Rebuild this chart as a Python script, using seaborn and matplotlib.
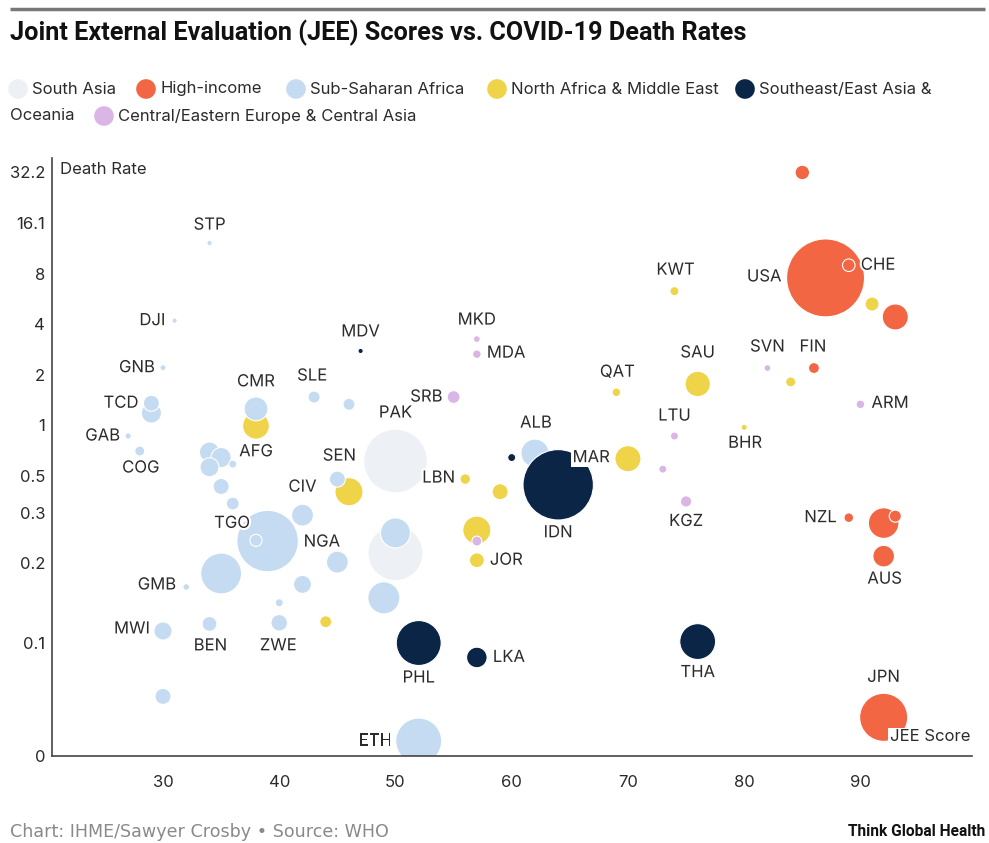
"""
JEE 评分 vs. COVID-19 死亡率 气泡图
"""
import numpy as np
import pandas as pd
import matplotlib
matplotlib.use('Agg')  # 无界面，直接保存
import matplotlib.pyplot as plt
import matplotlib.patheffects as pe
from matplotlib.ticker import NullLocator
import seaborn as sns

# ---- 数据 ----
REGIONS = ['South Asia', 'High-income', 'Sub-Saharan Africa', 'North Africa & Middle East',
           'Southeast/East Asia & Oceania', 'Central/Eastern Europe & Central Asia']
COLORS = ['#edf1f5', '#f26644', '#c5dbf1', '#efd449', '#0b2546', '#dab6e6']

# region keys: SA, HI, SSA, NAME, SEA, CEE
codes = ['STP', 'DJI', 'GNB', 'TCD', '', 'GAB', 'COG', '', '', '', '', '', '',
         'CMR', 'SLE', '', 'SEN', '', 'CIV', 'NGA', 'TGO', '', '', 'GMB', '',
         'MWI', 'BEN', 'ZWE', '', '', '', '', 'ETH', 'ALB', '', 'PAK', '',
         'MDV', 'MKD', 'MDA', 'SRB', 'QAT', 'MAR', 'IDN', 'LBN', '', '', '',
         'JOR', '', 'PHL', 'LKA', 'AFG',
         '', 'USA', 'CHE', '', '', 'FIN', '', 'SVN', 'ARM', 'BHR', 'LTU', 'KWT',
         'SAU', '', 'KGZ', 'NZL', '', '', 'AUS', 'THA', 'JPN']
region = ['SSA', 'SSA', 'SSA', 'SSA', 'SSA', 'SSA', 'SSA', 'SSA', 'SSA', 'SSA', 'SSA', 'SSA', 'SSA',
          'SSA', 'SSA', 'SSA', 'SSA', 'NAME', 'SSA', 'SSA', 'SSA', 'SSA', 'SSA', 'SSA', 'SSA',
          'SSA', 'SSA', 'SSA', 'SSA', 'SSA', 'SSA', 'SSA', 'SSA', 'SSA', 'SEA', 'SA', 'SA',
          'SEA', 'CEE', 'CEE', 'CEE', 'NAME', 'NAME', 'SEA', 'NAME', 'NAME', 'NAME', 'CEE',
          'NAME', 'NAME', 'SEA', 'SEA', 'NAME',
          'HI', 'HI', 'HI', 'NAME', 'HI', 'HI', 'NAME', 'CEE', 'CEE', 'NAME', 'CEE', 'NAME',
          'NAME', 'CEE', 'CEE', 'HI', 'HI', 'HI', 'HI', 'SEA', 'HI']
jee = [34, 31, 30, 29, 29, 27, 28, 34, 35, 34, 36, 35, 36,
       38, 43, 46, 45, 46, 42, 39, 38, 35, 42, 32, 40,
       30, 34, 40, 30, 45, 50, 49, 52, 62, 60, 50, 50,
       47, 57, 57, 55, 69, 70, 64, 56, 59, 57, 57,
       57, 44, 52, 57, 38,
       85, 87, 89, 91, 93, 86, 84, 82, 90, 80, 74, 74,
       76, 73, 75, 89, 92, 93, 92, 76, 92]
death = [12.2, 4.2, 2.2, 1.35, 1.18, 0.86, 0.70, 0.69, 0.64, 0.56, 0.585, 0.43, 0.34,
         1.25, 1.47, 1.33, 0.476, 0.40, 0.29, 0.203, 0.205, 0.13, 0.112, 0.108, 0.087,
         0.059, 0.065, 0.066, 0.024, 0.152, 0.227, 0.093, 0.013, 0.68, 0.64, 0.61, 0.172,
         2.77, 3.26, 2.65, 1.47, 1.57, 0.63, 0.44, 0.476, 0.40, 0.236, 0.203,
         0.156, 0.067, 0.050, 0.041, 0.99,
         32.2, 7.56, 9.0, 5.28, 4.42, 2.19, 1.81, 2.19, 1.33, 0.97, 0.86, 6.3,
         1.76, 0.546, 0.35, 0.28, 0.26, 0.286, 0.165, 0.051, 0.018]
# 人口（百万），决定气泡面积
pop = [1.5, 1.5, 2, 14, 22, 2.2, 5.4, 22, 22, 19.6, 3.5, 14, 9,
       31, 8, 7.8, 14, 43, 26, 206, 8, 91, 17.6, 2.4, 3.5,
       18, 12, 14.9, 14, 26, 49, 56, 115, 43, 3.5, 221, 165,
       1.5, 2.5, 4, 9, 4, 37, 270, 6, 14, 43, 5.4,
       12, 7.8, 110, 23, 39,
       11.5, 331, 8.6, 10.7, 37, 6.5, 5.4, 2.5, 4, 2, 3.5, 4.5,
       35, 3.5, 7, 5, 51, 8, 25.5, 70, 126]

y_ticks = [0.01058, 0.05, 0.15, 0.3, 0.5, 1, 2, 4, 8, 16.1, 32.2]
y_tick_labels = ['0', '0.1', '0.2', '0.3', '0.5', '1', '2', '4', '8', '16.1', '32.2']
x_ticks = [30, 40, 50, 60, 70, 80, 90]

# 绘制顺序（图层）：先画的在下面
draw_order = ['SA', 'NAME', 'SSA', 'HI', 'CEE', 'SEA']

# 标签相对气泡中心的偏移（像素，向下为正）和对齐方式
label_pos = {
    'STP': (0, -18, 'center'), 'DJI': (-9, 0, 'right'), 'GNB': (-8, 0, 'right'),
    'TCD': (-13, 0, 'right'), 'GAB': (-8, 0, 'right'), 'COG': (1, 17, 'center'),
    'CMR': (0, -27, 'center'), 'SLE': (-2, -21, 'center'), 'AFG': (0, 26, 'center'),
    'SEN': (2, -23, 'center'), 'CIV': (0, -28, 'center'), 'TGO': (-24, -17, 'center'),
    'NGA': (36, 1, 'left'), 'GMB': (-10, -2, 'right'), 'MWI': (-13, -2, 'right'),
    'BEN': (1, 22, 'center'), 'ZWE': (-1, 23, 'center'), 'ETH': (-27, 0, 'right'),
    'PHL': (0, 35, 'center'), 'LKA': (16, 0, 'left'), 'JOR': (13, 0, 'left'),
    'LBN': (-10, -1, 'right'), 'PAK': (0, -48, 'center'), 'SRB': (-11, 0, 'right'),
    'MKD': (0, -19, 'center'), 'MDA': (10, -1, 'left'), 'MDV': (0, -19, 'center'),
    'ALB': (1, -30, 'center'), 'MAR': (-18, -1, 'right'), 'IDN': (0, 48, 'center'),
    'QAT': (1, -20, 'center'), 'KWT': (1, -21, 'center'), 'SAU': (0, -31, 'center'),
    'LTU': (0, -20, 'center'), 'BHR': (1, 16, 'center'), 'KGZ': (0, 20, 'center'),
    'SVN': (0, -21, 'center'), 'FIN': (-1, -21, 'center'), 'USA': (-44, -1, 'right'),
    'CHE': (12, 0, 'left'), 'ARM': (11, -1, 'left'), 'NZL': (-12, 0, 'right'),
    'AUS': (1, 23, 'center'), 'THA': (0, 31, 'center'), 'JPN': (0, -40, 'center'),
}

key_to_name = dict(zip(['SA', 'HI', 'SSA', 'NAME', 'SEA', 'CEE'], REGIONS))

df = pd.DataFrame({'code': codes, 'key': region, 'jee': jee, 'death': death, 'pop': pop})
df['region'] = df['key'].map(key_to_name)
df['layer'] = df['key'].map({k: i for i, k in enumerate(draw_order)})
df = df.sort_values(['layer', 'pop'], ascending=[True, False], kind='stable')

# ---- 绘图 ----
sns.set_style('white')
plt.rcParams['font.family'] = ['Inter', 'DejaVu Sans']
TEXT = '#2b2b2b'

W, H = 989, 843
fig = plt.figure(figsize=(W / 100, H / 100), dpi=100)
ax = fig.add_axes([52 / W, 1 - 756 / H, 920 / W, 598 / H])

sns.scatterplot(data=df, x='jee', y='death', hue='region', hue_order=REGIONS,
                palette=COLORS, size='pop', sizes=(0, 3149), size_norm=(0, 331),
                edgecolor='white', linewidth=0.8, legend=False, ax=ax)

ax.set_yscale('log', base=2)
ax.set_xlim(20.45, 99.6)
ax.set_ylim(0.01058, 39.3)
ax.set_yticks(y_ticks)
ax.set_yticklabels(y_tick_labels)
ax.yaxis.set_minor_locator(NullLocator())
ax.set_xticks(x_ticks)
ax.set_xlabel('')
ax.set_ylabel('')
ax.tick_params(axis='both', length=0, labelsize=12, colors=TEXT)
ax.tick_params(axis='x', pad=14)
ax.tick_params(axis='y', pad=5)
for side in ['top', 'right']:
    ax.spines[side].set_visible(False)
for side in ['left', 'bottom']:
    ax.spines[side].set_color('#444444')
    ax.spines[side].set_linewidth(1.2)

halo = [pe.withStroke(linewidth=3, foreground='white')]
for _, row in df.iterrows():
    if not row['code']:
        continue
    dx, dy, ha = label_pos[row['code']]
    kw = {}
    if row['code'] == 'MAR':
        kw['bbox'] = dict(facecolor='white', edgecolor='none', pad=1)
    ax.annotate(row['code'], (row['jee'], row['death']), xytext=(dx, -dy),
                textcoords='offset pixels', ha=ha, va='center', fontsize=12,
                color=TEXT, path_effects=halo, **kw)

ax.text(0.009, 0.98, 'Death Rate', transform=ax.transAxes, ha='left', va='center',
        fontsize=12, color=TEXT)
ax.text(0.998, 0.032, 'JEE Score', transform=ax.transAxes, ha='right', va='center',
        fontsize=12, color=TEXT, bbox=dict(facecolor='white', edgecolor='none', pad=1))

# ---- 标题、图例、脚注（像素坐标）----
over = fig.add_axes([0, 0, 1, 1], zorder=-1)
over.set_xlim(0, W)
over.set_ylim(H, 0)
over.axis('off')

over.plot([10, 985], [9, 9], color='#777777', lw=2.5, solid_capstyle='butt')
over.text(10, 33, 'Joint External Evaluation (JEE) Scores vs. COVID-19 Death Rates',
          ha='left', va='center', fontsize=18.2, fontweight='bold', color='#111111',
          family=['Roboto', 'DejaVu Sans'])

legend_items = [(18, 89), (146, 89), (296, 89), (497, 89), (745, 89), (104, 116)]
legend_text = ['South Asia', 'High-income', 'Sub-Saharan Africa',
               'North Africa & Middle East', 'Southeast/East Asia &',
               'Central/Eastern Europe & Central Asia']
for (lx, ly), txt, col in zip(legend_items, legend_text, COLORS):
    over.scatter([lx], [ly], s=200, color=col, edgecolor='none')
    over.text(lx + 14, ly, txt, ha='left', va='center', fontsize=12, color=TEXT)
over.text(10, 116, 'Oceania', ha='left', va='center', fontsize=12, color=TEXT)

over.text(10, 832, 'Chart: IHME/Sawyer Crosby \u2022 Source: WHO', ha='left', va='center',
          fontsize=12.6, color='#8a8a8a', family=['DejaVu Sans'])
over.text(985, 832, 'Think Global Health', ha='right', va='center', fontsize=11.2,
          fontweight='bold', color='#111111', family=['Roboto', 'DejaVu Sans'])

fig.savefig('out.png', dpi=100)
plt.close(fig)
